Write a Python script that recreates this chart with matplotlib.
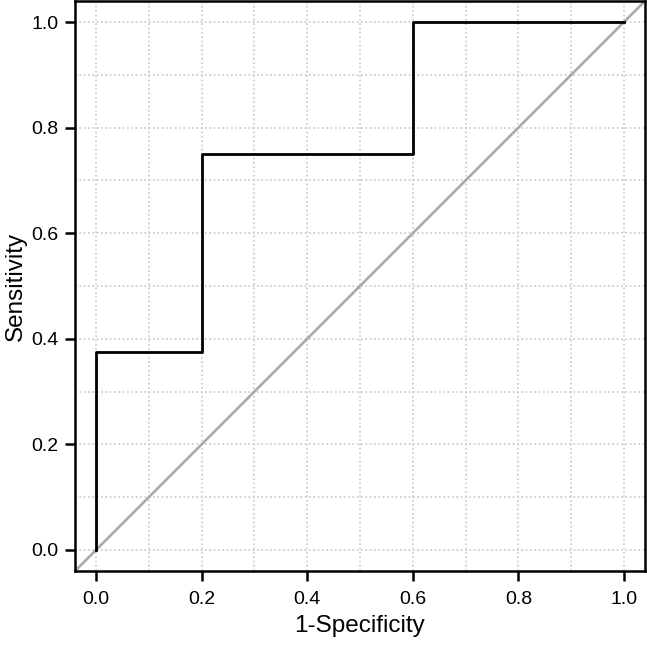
import matplotlib
matplotlib.use("Agg")
import matplotlib.pyplot as plt
import numpy as np

fpr = [0.0, 0.0, 0.2, 0.2, 0.6, 0.6, 1.0]
tpr = [0.0, 0.375, 0.375, 0.75, 0.75, 1.0, 1.0]
ticks = [0.0, 0.2, 0.4, 0.6, 0.8, 1.0]
tick_labels = ["0.0", "0.2", "0.4", "0.6", "0.8", "1.0"]
grid_pos = [i / 10 for i in range(11)]

plt.rcParams['font.family'] = ['Liberation Sans', 'DejaVu Sans']
fig = plt.figure(figsize=(6.47, 6.46), dpi=100)
ax = fig.add_axes([75/647, 1 - 571/646, 570/647, 570/646])
ax.set_xlim(-0.04, 1.04)
ax.set_ylim(-0.04, 1.04)

for g in grid_pos:
    ax.axvline(g, color='#cfcfcf', linestyle=(0, (1, 1.4)), linewidth=1.3, zorder=0)
    ax.axhline(g, color='#cfcfcf', linestyle=(0, (1, 1.4)), linewidth=1.3, zorder=0)

ax.plot([-0.04, 1.04], [-0.04, 1.04], color='#a9a9a9', linewidth=1.9, zorder=1)
ax.plot(fpr, tpr, color='black', linewidth=2.0, zorder=2)

ax.set_xticks(ticks)
ax.set_xticklabels(tick_labels)
ax.set_yticks(ticks)
ax.set_yticklabels(tick_labels)
ax.tick_params(direction='out', length=7.5, width=1.8, labelsize=14, pad=4.5)
ax.tick_params(axis='x', pad=7)
for s in ax.spines.values():
    s.set_linewidth(1.8)
ax.set_xlabel("1-Specificity", fontsize=17.5, labelpad=5)
ax.set_ylabel("Sensitivity", fontsize=17.5, labelpad=3)

fig.savefig("out.png", dpi=100)
